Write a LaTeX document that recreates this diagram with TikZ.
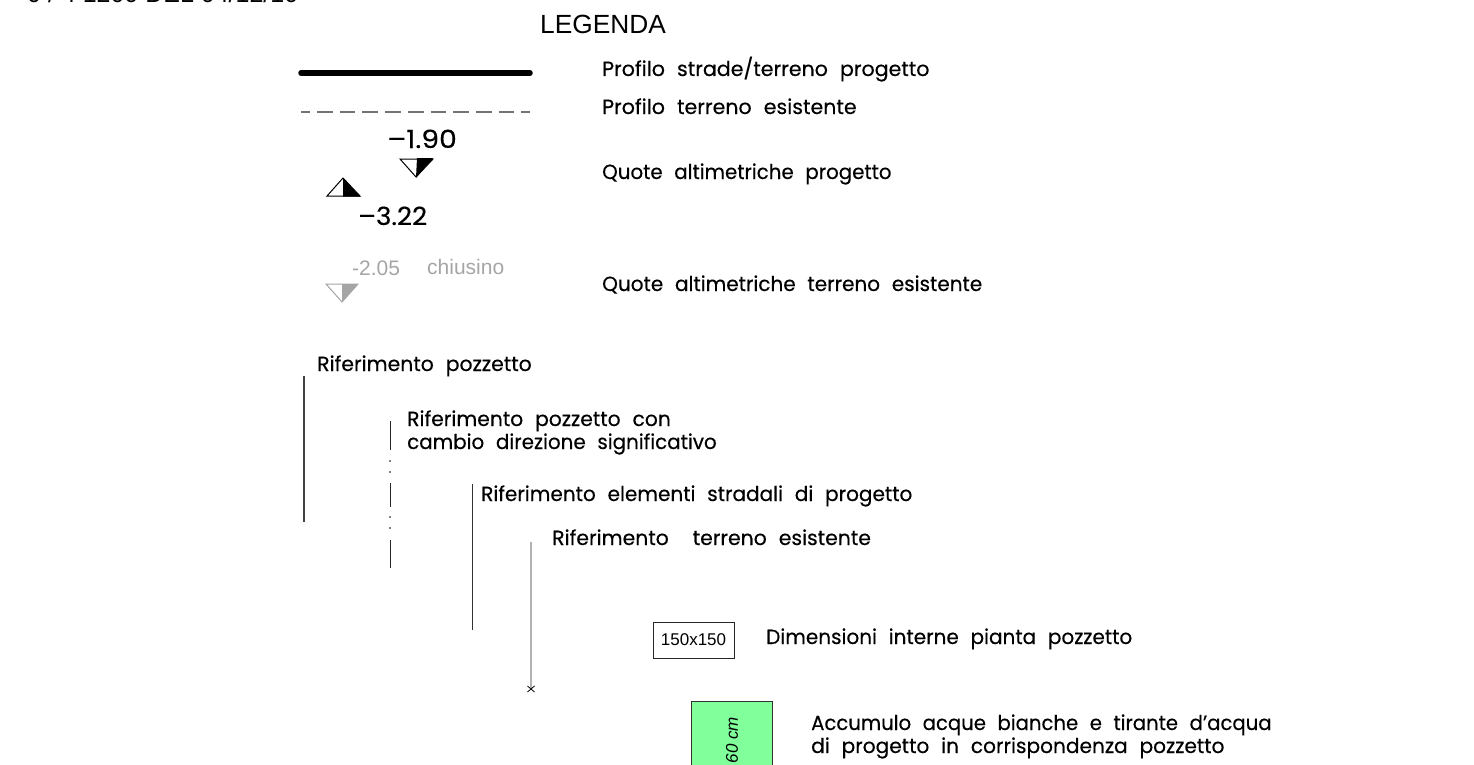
\documentclass[tikz,border=0pt]{standalone}
\usepackage{fontspec}
\setmainfont{Liberation Sans}
\newfontfamily\cadfont[WordSpace=2.2,RawFeature={embolden=0.35}]{Poppins}
\definecolor{greyq}{RGB}{165,165,165}
\definecolor{greendk}{RGB}{128,255,155}
\newcommand{\sx}[2]{\scalebox{#1}[1]{#2}}
\tikzset{
  cad/.style={anchor=base west,inner sep=0pt,font=\cadfont\fontsize{20.5}{23}\selectfont},
  arial/.style={anchor=west,inner sep=0pt,font=\fontsize{21}{24}\selectfont},
  qnum/.style={anchor=base west,inner sep=0pt,font=\cadfont\fontsize{25}{26}\selectfont},
  refline/.style={line width=1.3pt,black!75}
}
\begin{document}
\begin{tikzpicture}[x=1pt,y=-1pt]
\useasboundingbox (0,0) rectangle (1474,765);
\node[anchor=base west,inner sep=0pt,font=\fontsize{25}{28}\selectfont] (topt) at (27,3) {0 / 4 1200 DEL 04/12/10};
\node[arial,font=\fontsize{26.3}{30}\selectfont] (leg) at (540,24) {LEGENDA};
\coordinate (a1) at (301,73); \coordinate (a2) at (530,73);
\draw[line width=5.5pt,line cap=round] (a1) -- (a2);
\coordinate (b1) at (301,112); \coordinate (b2) at (530,112);
\draw[line width=1.3pt,black!55,dash pattern=on 15.7pt off 7pt,dash phase=6.7pt] (b1) -- (b2);
\node[cad] (t1) at (602,76) {\sx{1.003}{Profilo strade/terreno progetto}};
\node[cad] (t2) at (602,114) {\sx{1.003}{Profilo terreno esistente}};
\node[qnum] (q1) at (387,148) {\sx{1.13}{–1.90}};
\fill (417,158) -- (433,158) -- (416,178) -- cycle;
\draw[line width=1pt] (400,159) -- (433,159) -- (416,177) -- cycle;
\draw[line width=1pt] (343,178) -- (327,196) -- (360,196) -- cycle;
\fill (343,178) -- (360,196.5) -- (343,196.5) -- cycle;
\node[qnum] (q2) at (358,225) {\sx{1.05}{–3.22}};
\node[arial,greyq] (q3) at (352,268) {-2.05};
\node[arial,greyq] (q4) at (427,267) {chiusino};
\draw[line width=1pt,greyq] (326,284) -- (358,284) -- (342,302) -- cycle;
\fill[greyq] (342,284) -- (358,284) -- (342,302) -- cycle;
\node[cad] (t3) at (602,179) {\sx{.966}{Quote altimetriche progetto}};
\node[cad] (t4) at (602,291) {\sx{.976}{Quote altimetriche terreno esistente}};
\node[cad] (t5) at (317,371) {\sx{.995}{Riferimento pozzetto}};
\coordinate (r1) at (304,376); \coordinate (r2) at (304,522);
\draw[refline] (r1) -- (r2);
\node[cad] (t6a) at (407,426) {\sx{.99}{Riferimento pozzetto con}};
\node[cad] (t6b) at (407,449) {\sx{.97}{cambio direzione significativo}};
\draw[line width=1pt,black!85] (390,421) -- (390,450);
\fill (390,461) circle (.8pt) (390,472) circle (.8pt);
\draw[line width=1pt,black!85] (390,483) -- (390,507);
\fill (390,517) circle (.8pt) (390,528) circle (.8pt);
\draw[line width=1pt,black!85] (390,540) -- (390,568);
\node[cad] (t7) at (481,501) {\sx{.978}{Riferimento elementi stradali di progetto}};
\coordinate (s1) at (472,484); \coordinate (s2) at (472,630);
\draw[line width=1pt,black!80] (s1) -- (s2);
\node[cad] (t8) at (552,545) {\sx{.995}{Riferimento\ \ terreno esistente}};
\coordinate (u1) at (531,542); \coordinate (u2) at (531,688);
\draw[line width=1.1pt,black!30] (u1) -- (u2);
\draw[line width=.8pt] (527.5,686) -- (534.5,692) (527.5,692) -- (534.5,686);
\node[draw,line width=1pt,black!85,text=black,minimum width=81pt,minimum height=36pt,inner sep=0pt,font=\fontsize{17}{18}\selectfont] (dim) at (693.5,640.5) {\raisebox{1pt}{150x150}\hspace{2pt}};
\node[cad] (t9) at (766,644) {\sx{.976}{Dimensioni interne pianta pozzetto}};
\fill[greendk] (691,701.5) rectangle (772,770);
\draw[line width=1pt,black!80] (691,770) -- (691,701.5) -- (772,701.5) -- (772,770);
\node[rotate=90,inner sep=0pt,font=\itshape\fontsize{17}{18}\selectfont] (h) at (732,740) {60 cm};
\node[cad] (t10a) at (811,730) {\sx{.959}{Accumulo acque bianche e tirante d’acqua}};
\node[cad] (t10b) at (811,753) {\sx{.983}{di progetto in corrispondenza pozzetto}};
\end{tikzpicture}
\end{document}
